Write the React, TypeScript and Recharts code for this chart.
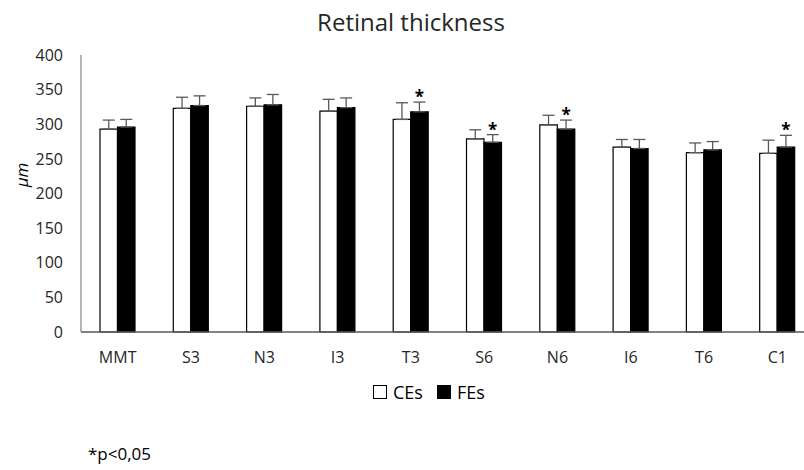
import React from 'react'
import { BarChart, Bar, XAxis, YAxis, ErrorBar, LabelList } from 'recharts'

const categories = ['MMT', 'S3', 'N3', 'I3', 'T3', 'S6', 'N6', 'I6', 'T6', 'C1']
const ceMean = [293, 323, 326, 319, 307, 279, 299, 267, 259, 258]
const ceSd = [13, 16, 12, 17, 24, 13, 14, 11, 14, 19]
const feMean = [296, 327, 328, 324, 318, 274, 293, 265, 263, 267]
const feSd = [11, 14, 15, 14, 14, 11, 13, 13, 12, 17]
const significant = [false, false, false, false, true, true, true, false, false, true]
const yTicks = [0, 50, 100, 150, 200, 250, 300, 350, 400]

const data = categories.map((name, i) => ({
  name,
  ce: ceMean[i],
  ceErr: [0, ceSd[i]],
  fe: feMean[i],
  feErr: [0, feSd[i]],
  star: significant[i] ? '*' : '',
}))

const FONT = "'Open Sans', sans-serif"

function StarLabel(props: any) {
  const { x, y, width, height, index, value } = props
  if (!value) return null
  const row = data[index]
  const pxPerUnit = height / row.fe
  const errTop = y - feSd[index] * pxPerUnit
  return (
    <text
      x={x + width / 2}
      y={errTop + 1}
      textAnchor="middle"
      fontFamily={FONT}
      fontSize={17}
      fontWeight="bold"
      fill="#000"
    >
      {value}
    </text>
  )
}

function UnitLabel() {
  return (
    <text
      x={0}
      y={0}
      transform="translate(28, 175) rotate(-90)"
      textAnchor="middle"
      fontFamily={FONT}
      fontStyle="italic"
      fontSize={17}
      fill="#000"
    >
      μm
    </text>
  )
}

function LegendBox() {
  const item = (label: string, fill: string) => (
    <div style={{ display: 'flex', alignItems: 'center', marginRight: 14 }}>
      <div style={{ width: 12, height: 12, border: '1px solid #000', background: fill, marginRight: 6 }} />
      <span style={{ fontFamily: FONT, fontSize: 18, color: '#000' }}>{label}</span>
    </div>
  )
  return (
    <div style={{ display: 'flex' }}>
      {item('CEs', '#fff')}
      {item('FEs', '#000')}
    </div>
  )
}

export default function App() {
  return (
    <div
      style={{
        position: 'absolute',
        left: 0,
        top: 0,
        width: 804,
        height: 470,
        overflow: 'hidden',
        background: '#fff',
      }}
    >
      <div
        style={{
          position: 'absolute',
          left: 0,
          width: 822,
          top: 10,
          textAlign: 'center',
          fontFamily: FONT,
          fontSize: 24,
          lineHeight: '24px',
          color: '#262626',
        }}
      >
        Retinal thickness
      </div>
      <BarChart
        width={830}
        height={470}
        data={data}
        margin={{ top: 55, right: 16, left: 0, bottom: 108 }}
        barGap={0}
        barSize={17.5}
      >
        <XAxis
          dataKey="name"
          height={30}
          tickLine={false}
          tickSize={6}
          tickMargin={14}
          axisLine={{ stroke: '#595959', strokeWidth: 1.3 }}
          tick={{ fontFamily: FONT, fontSize: 16, fill: '#262626' }}
          interval={0}
        />
        <YAxis
          width={81}
          domain={[0, 400]}
          ticks={yTicks}
          tickLine={false}
          tickSize={6}
          tickMargin={12}
          axisLine={{ stroke: '#8c8c8c', strokeWidth: 1.3 }}
          tick={{ fontFamily: FONT, fontSize: 16, fill: '#262626' }}
          label={<UnitLabel />}
        />
        <Bar dataKey="ce" name="CEs" fill="#fff" stroke="#000" strokeWidth={1.2} isAnimationActive={false}>
          <ErrorBar dataKey="ceErr" direction="y" width={6} stroke="#595959" strokeWidth={1.3} />
        </Bar>
        <Bar dataKey="fe" name="FEs" fill="#000" stroke="#000" strokeWidth={1.2} isAnimationActive={false}>
          <ErrorBar dataKey="feErr" direction="y" width={6} stroke="#595959" strokeWidth={1.3} />
          <LabelList dataKey="star" content={<StarLabel />} />
        </Bar>
      </BarChart>
      <div style={{ position: 'absolute', left: 373, top: 380 }}>
        <LegendBox />
      </div>
      <div
        style={{
          position: 'absolute',
          left: 88,
          top: 444,
          fontFamily: FONT,
          fontSize: 17,
          lineHeight: '20px',
          color: '#000',
        }}
      >
        *p&lt;0,05
      </div>
    </div>
  )
}
